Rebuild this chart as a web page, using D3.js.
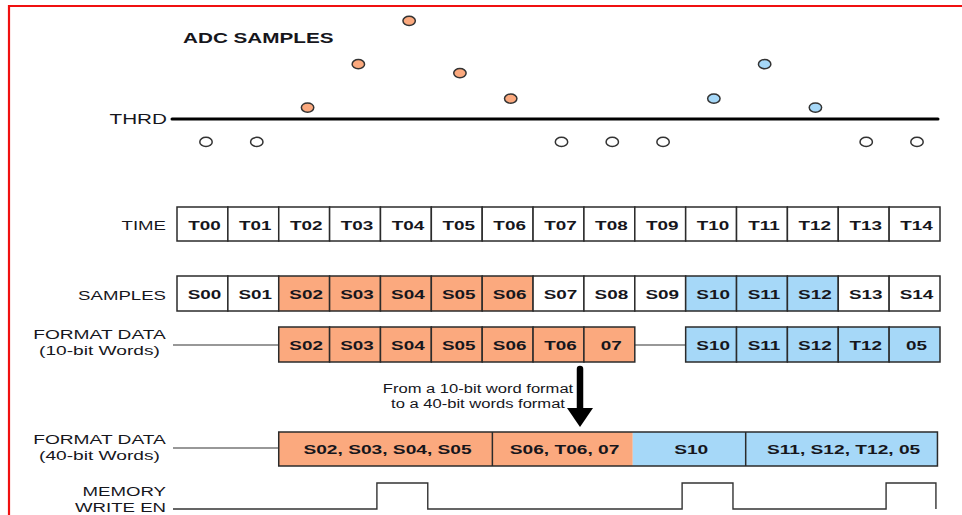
<!DOCTYPE html>
<html><head><meta charset="utf-8">
<script src="https://cdn.jsdelivr.net/npm/d3@7"></script>
<style>body{margin:0;background:#fff}svg{display:block}text{font-family:"Liberation Sans",Arial,sans-serif;fill:#16161c}</style>
</head><body><div id="chart"></div>
<script>
// ---- data ----
const times = ["T00","T01","T02","T03","T04","T05","T06","T07","T08","T09","T10","T11","T12","T13","T14"];
const samples = ["S00","S01","S02","S03","S04","S05","S06","S07","S08","S09","S10","S11","S12","S13","S14"];
const adcValues = [-0.9,-0.9,0.45,2.15,3.85,1.8,0.8,-0.9,-0.9,-0.9,0.8,2.15,0.45,-0.9,-0.9];
const sampleGroup = ["none","none","a","a","a","a","a","none","none","none","b","b","b","none","none"];
const words10Labels = ["S02","S03","S04","S05","S06","T06","07","S10","S11","S12","T12","05"];
const words10Slots = [2,3,4,5,6,7,8,10,11,12,13,14];
const words10Group = ["a","a","a","a","a","a","a","b","b","b","b","b"];
const words40Labels = ["S02, S03, S04, S05","S06, T06, 07","S10","S11, S12, T12, 05"];
const words40Start = [2,6.2,8.96,11.18];
const words40End = [6.2,8.96,11.18,14.95];
const words40Group = ["a","a","b","b"];
const writePulseStart = [3.93,9.93,13.94];
const writePulseEnd = [4.93,10.93,14.92];
const threshold = 0;

const W = 962, H = 515, SX = 1.38;
const colors = {a:"#FBA97E", b:"#A6D8F8", none:"#ffffff"};
const svg = d3.select("#chart").append("svg").attr("width",W).attr("height",H);

// scales
const x = d3.scaleLinear().domain([0,15]).range([177,940]);
const xDot = d3.scalePoint().domain(times).range([206,917]);
const y = d3.scaleLinear().domain([0,4]).range([119,17]);

function label(sel, tx, ty, str, opts={}) {
  return sel.append("text")
    .attr("transform",`translate(${tx},${ty}) scale(${opts.sx||SX},1)`)
    .attr("text-anchor",opts.anchor||"end")
    .attr("dominant-baseline","central")
    .style("font-size",(opts.size||13.5)+"px")
    .style("font-weight",opts.bold?"bold":"normal")
    .text(str);
}

// red frame
svg.append("line").attr("x1",9).attr("x2",9).attr("y1",5).attr("y2",H).attr("stroke","#f01010").attr("stroke-width",2.2);
svg.append("line").attr("x1",8).attr("x2",W).attr("y1",6).attr("y2",6).attr("stroke","#f01010").attr("stroke-width",2.2);

// title
label(svg, 183, 38, "ADC SAMPLES", {anchor:"start", bold:true, size:15});

// threshold
label(svg, 167, 119, "THRD", {size:15});
svg.append("line").attr("x1",172).attr("x2",938).attr("y1",y(threshold)).attr("y2",y(threshold))
  .attr("stroke","#000").attr("stroke-width",3).attr("stroke-linecap","round");

svg.append("g").selectAll("ellipse").data(times).join("ellipse")
  .attr("cx",d=>xDot(d)).attr("cy",(d,i)=>y(adcValues[i]))
  .attr("rx",6.2).attr("ry",4.6)
  .attr("fill",(d,i)=>colors[sampleGroup[i]])
  .attr("stroke","#333").attr("stroke-width",1.5);

// cell rows
function cellRow(top, h, slots, labels, groups) {
  const g = svg.append("g");
  g.selectAll("rect").data(slots).join("rect")
    .attr("x",d=>x(d)).attr("y",top).attr("width",d=>x(d+1)-x(d)).attr("height",h)
    .attr("fill",(d,i)=>colors[groups[i]]).attr("stroke","#2b2b2b").attr("stroke-width",1.5);
  slots.forEach((d,i)=>label(g,(x(d)+x(d+1))/2+2, top+h/2+1, labels[i], {anchor:"middle", bold:true, size:13.5, sx:1.4}));
}
const idx = d3.range(15);
label(svg, 166, 225, "TIME");
cellRow(207, 34, idx, times, idx.map(()=> "none"));
label(svg, 166, 295, "SAMPLES");
cellRow(276, 35, idx, samples, sampleGroup);

// format data 10-bit
label(svg, 99.5, 335, "FORMAT DATA", {anchor:"middle", sx:1.42});
label(svg, 99.5, 351, "(10-bit Words)", {anchor:"middle", sx:1.42});
svg.append("line").attr("x1",173).attr("x2",x(2)).attr("y1",345).attr("y2",345).attr("stroke","#333").attr("stroke-width",1.2);
svg.append("line").attr("x1",x(9)).attr("x2",x(10)).attr("y1",345).attr("y2",345).attr("stroke","#333").attr("stroke-width",1.2);
cellRow(327, 35, words10Slots, words10Labels, words10Group);

// arrow + note
label(svg, 478, 389, "From a 10-bit word format", {anchor:"middle", size:12});
label(svg, 478, 404, "to a 40-bit words format", {anchor:"middle", size:12});
svg.append("line").attr("x1",580).attr("x2",580).attr("y1",369).attr("y2",410).attr("stroke","#000").attr("stroke-width",6.5).attr("stroke-linecap","round");
svg.append("path").attr("d","M567,408 L593,408 L580,427 Z").attr("fill","#000");

// format data 40-bit
label(svg, 99.5, 440, "FORMAT DATA", {anchor:"middle", sx:1.42});
label(svg, 99.5, 456, "(40-bit Words)", {anchor:"middle", sx:1.42});
svg.append("line").attr("x1",173).attr("x2",x(2)).attr("y1",448).attr("y2",448).attr("stroke","#333").attr("stroke-width",1.2);
const g40 = svg.append("g");
g40.selectAll("rect").data(words40Labels).join("rect")
  .attr("x",(d,i)=>x(words40Start[i])).attr("y",432)
  .attr("width",(d,i)=>x(words40End[i])-x(words40Start[i])).attr("height",34)
  .attr("fill",(d,i)=>colors[words40Group[i]]).attr("stroke","none");
g40.append("rect").attr("x",x(words40Start[0])).attr("y",432)
  .attr("width",x(words40End[3])-x(words40Start[0])).attr("height",34)
  .attr("fill","none").attr("stroke","#2b2b2b").attr("stroke-width",1.5);
[1,3].forEach(i=>g40.append("line").attr("x1",x(words40Start[i])).attr("x2",x(words40Start[i])).attr("y1",432).attr("y2",466).attr("stroke","#2b2b2b").attr("stroke-width",1.5));
words40Labels.forEach((d,i)=>label(g40,(x(words40Start[i])+x(words40End[i]))/2+2,450,d,{anchor:"middle",bold:true,size:13.5,sx:1.42}));

// memory write enable
label(svg, 166, 491, "MEMORY");
label(svg, 166, 507, "WRITE EN");
const lo = 509, hi = 483;
let pts = [[173,lo]];
writePulseStart.forEach((s,i)=>{
  pts.push([x(s),lo],[x(s),hi],[x(writePulseEnd[i]),hi],[x(writePulseEnd[i]),lo]);
});
svg.append("path").attr("d",d3.line()(pts)).attr("fill","none").attr("stroke","#333").attr("stroke-width",1.4);
</script></body></html>
